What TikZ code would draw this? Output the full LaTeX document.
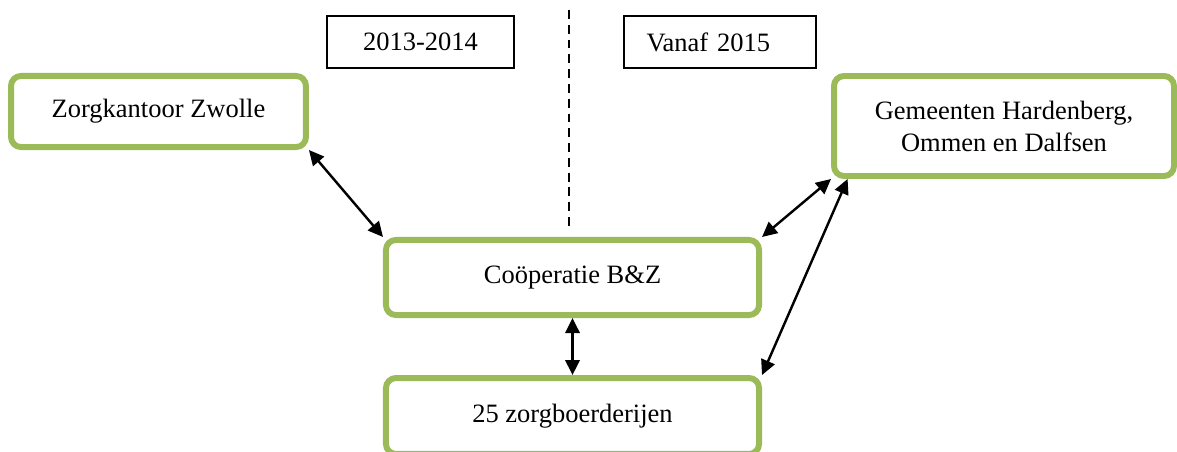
\documentclass[tikz,border=0pt]{standalone}
\usepackage{fontspec}
\setmainfont{Liberation Serif}
\usetikzlibrary{arrows.meta}

\definecolor{boxgreen}{HTML}{9BBB59}

\tikzset{
    partner/.style={draw=boxgreen, line width=2.7pt, rounded corners=4.5pt, fill=white, align=center},
    period/.style={draw, line width=0.9pt, minimum height=23.6pt},
    link/.style={<->, line width=1.1pt},
}

\begin{document}
\begin{tikzpicture}[x=0.453pt, y=-0.453pt, >={Triangle[length=6.8pt, width=6.5pt]},
    font=\fontsize{12}{14.5}\selectfont]
            \useasboundingbox (0, 0) rectangle (1177, 452);

            \node[period, minimum width=84.7pt] (old) at (420.5, 42) {2013-2014};
            \node[period, text width=66.6pt, inner xsep=10.4pt, align=left] (new) at (720, 42) {Vanaf 2015};

            \coordinate (splittop) at (569, 10);
            \coordinate (splitbot) at (569, 226);
            \draw[line width=1.2pt, dash pattern=on 4pt off 2.7pt] (splittop) -- (splitbot);

            \node[partner, minimum width=133.6pt, minimum height=32.2pt] (zorg) at (158.5, 111.5) {Zorgkantoor Zwolle};
            \node[partner, minimum width=154pt, minimum height=45.3pt] (gem) at (1004, 126) {Gemeenten Hardenberg,\\Ommen en Dalfsen};
            \node[partner, minimum width=169pt, minimum height=34pt] (coop) at (572.5, 277.5) {Coöperatie B\&Z};
            \node[partner, minimum width=169pt, minimum height=34.4pt] (farms) at (572.5, 416) {25 zorgboerderijen};

            \draw[link] (zorg.south east) -- (coop.north west);
            \draw[link] (coop.north east) -- (gem.south west);
            \draw[link] (coop.south) -- (farms.north);
            \draw[link] (farms.north east) -- ([xshift=7.5pt]gem.south west);
        \end{tikzpicture}
\end{document}
